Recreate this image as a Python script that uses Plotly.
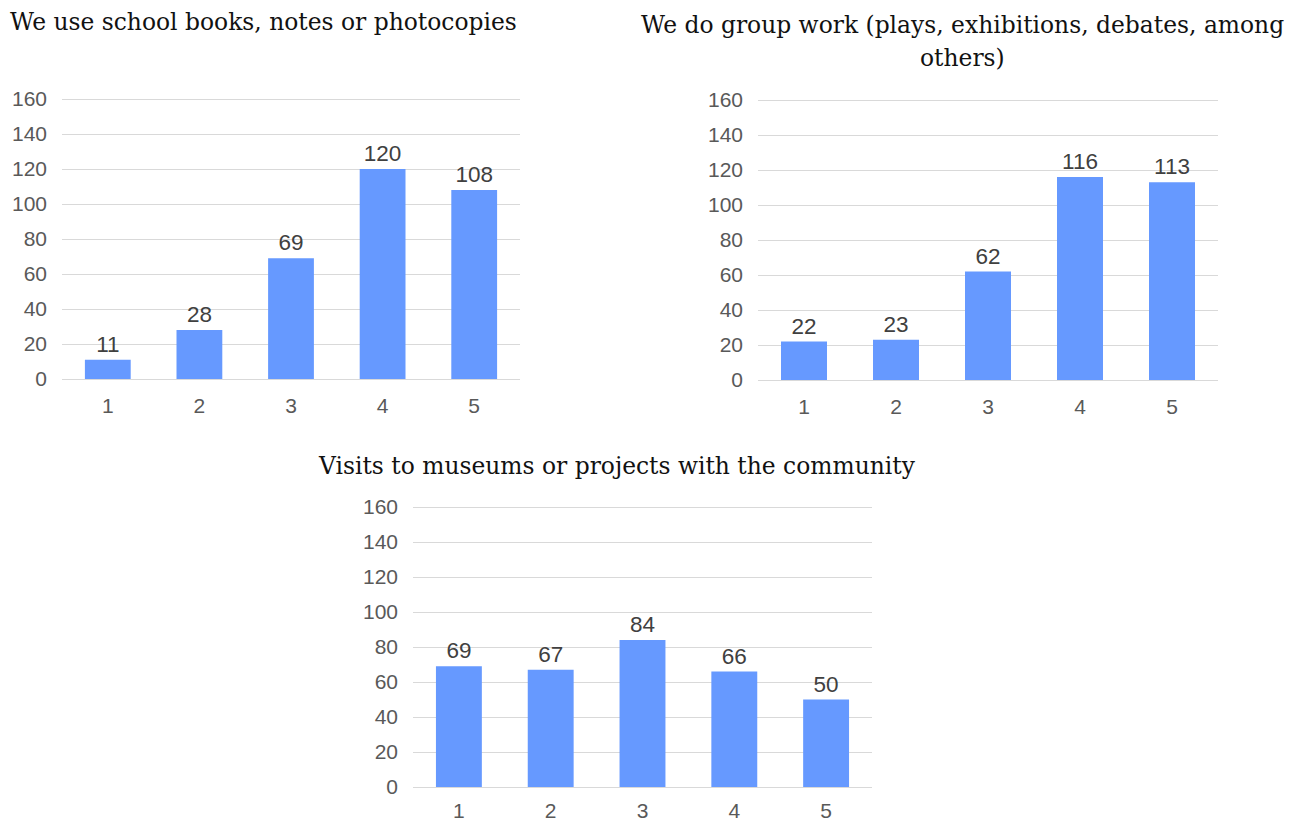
import plotly.graph_objects as go

categories = ["1", "2", "3", "4", "5"]
books_values = [11, 28, 69, 120, 108]
group_values = [22, 23, 62, 116, 113]
visits_values = [69, 67, 84, 66, 50]
y_ticks = [0, 20, 40, 60, 80, 100, 120, 140, 160]

title_books = "We use school books, notes or photocopies"
title_group_l1 = "We do group work (plays, exhibitions, debates, among"
title_group_l2 = "others)"
title_visits = "Visits to museums or projects with the community"

W, H = 1300, 823
BAR = "#6699FF"
GRID = "#d9d9d9"
TICKFONT = dict(family="Liberation Sans, Arial, sans-serif", size=21, color="#595959")
LABELFONT = dict(family="Liberation Sans, Arial, sans-serif", size=22.5, color="#404040")
TITLEFONT = dict(family="DejaVu Serif, serif", size=23.4, color="#111111")

YMAX = 162
PX_PER_UNIT = 280 / 160

fig = go.Figure()

panels = [
    (books_values, "x", "y", (62, 520), 379, 12),
    (group_values, "x2", "y2", (758, 1218), 380, 12),
    (visits_values, "x3", "y3", (413, 872), 787, 9),
]

for i, (vals, xa, ya, (x0, x1), ybot, xstand) in enumerate(panels):
    ytop = ybot - YMAX * PX_PER_UNIT
    fig.add_trace(go.Bar(
        x=categories, y=vals, xaxis=xa, yaxis=ya,
        marker=dict(color=BAR, line=dict(width=0)),
        width=0.5,
        text=[str(v) for v in vals], textposition="outside",
        textfont=LABELFONT, cliponaxis=False, showlegend=False,
    ))
    sfx = "" if i == 0 else str(i + 1)
    fig.layout["xaxis" + sfx] = dict(
        domain=[x0 / W, x1 / W], anchor=ya, automargin=False,
        showgrid=False, showline=False, ticks="", tickfont=TICKFONT,
        ticklabelstandoff=xstand, fixedrange=True,
    )
    fig.layout["yaxis" + sfx] = dict(
        domain=[1 - ybot / H, 1 - ytop / H], anchor=xa, automargin=False,
        range=[0, YMAX], tickvals=y_ticks,
        showgrid=True, gridcolor=GRID, gridwidth=1,
        zeroline=True, zerolinecolor=GRID, zerolinewidth=1,
        showline=False, ticks="", tickfont=TICKFONT, ticklabelstandoff=14,
        fixedrange=True,
    )

titles = [
    (title_books, 263, 22),
    (title_group_l1, 962, 25),
    (title_group_l2, 962, 58),
    (title_visits, 617, 466),
]
for txt, px, py in titles:
    fig.add_annotation(text=txt, x=px / W, y=1 - py / H, xref="paper", yref="paper",
                       showarrow=False, font=TITLEFONT, xanchor="center", yanchor="middle")

fig.update_layout(
    width=W, height=H, margin=dict(l=0, r=0, t=0, b=0, pad=0, autoexpand=False),
    plot_bgcolor="white", paper_bgcolor="white", bargap=0.5,
)

fig.write_html(
    "out.html",
    post_script="document.body.style.margin='0';document.body.style.overflow='hidden';",
)
